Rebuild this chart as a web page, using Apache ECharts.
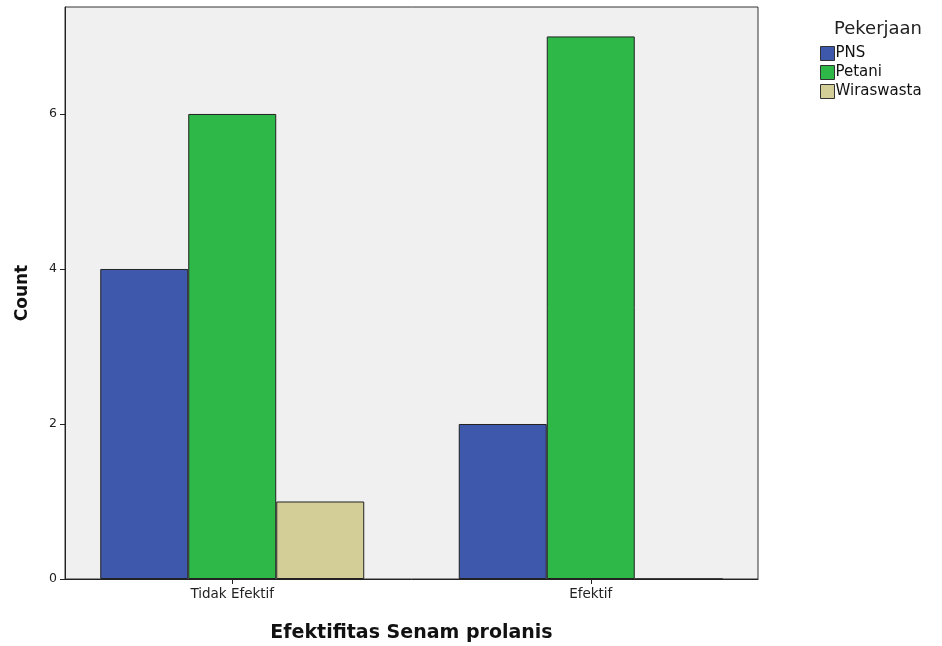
<!DOCTYPE html>
<html><head><meta charset="utf-8">
<script src="https://cdn.jsdelivr.net/npm/echarts@6/dist/echarts.min.js"></script>
<style>html,body{margin:0;padding:0;background:#fff}#c{width:942px;height:646px}</style>
</head><body><div id="c"></div>
<script>
const categories = ['Tidak Efektif', 'Efektif'];
const seriesNames = ['PNS', 'Petani', 'Wiraswasta'];
const pnsValues = [4, 2];
const petaniValues = [6, 7];
const wiraswastaValues = [1, 0];
const yTicks = [0, 2, 4, 6];
const colors = ['#3e58ac', '#2eb848', '#d3ce97'];
const allValues = [pnsValues, petaniValues, wiraswastaValues];

const chart = echarts.init(document.getElementById('c'), null, {renderer: 'canvas'});
const font = '"DejaVu Sans", sans-serif';
chart.setOption({
  animation: false,
  backgroundColor: '#fff',
  title: {
    text: 'Pekerjaan', left: 829, top: 15,
    textStyle: {fontFamily: font, fontSize: 18, fontWeight: 'normal', color: '#222'}
  },
  legend: {
    left: 815, top: 41, orient: 'vertical', itemWidth: 14, itemHeight: 14, itemGap: 4,
    icon: 'rect',
    data: seriesNames,
    textStyle: {fontFamily: font, fontSize: 15, color: '#111', padding: [0, 0, 0, -4]},
    itemStyle: {borderColor: '#333', borderWidth: 1}
  },
  grid: {left: 65, top: 7, right: 184, bottom: 67, outerBoundsMode: 'none', show: true, backgroundColor: '#f0f0f0', borderColor: '#333', borderWidth: 1},
  xAxis: {
    type: 'value', min: -0.4665, max: 1.4665,
    name: 'Efektifitas Senam prolanis', nameLocation: 'middle', nameGap: 45,
    nameTextStyle: {fontFamily: font, fontSize: 19, fontWeight: 'bold', color: '#111'},
    splitLine: {show: false},
    axisLine: {show: true, onZero: false, lineStyle: {color: '#222', width: 1}},
    axisTick: {show: true, length: 5, customValues: [0, 1], lineStyle: {color: '#222'}},
    axisLabel: {customValues: [0, 1], formatter: v => categories[Math.round(v)], fontFamily: font, fontSize: 13.5, color: '#222', margin: 8}
  },
  yAxis: {
    type: 'value', min: 0, max: 7.38,
    name: 'Count', nameLocation: 'middle', nameGap: 34, nameRotate: 90,
    nameTextStyle: {fontFamily: font, fontSize: 17, fontWeight: 'bold', color: '#111'},
    splitLine: {show: false},
    axisLine: {show: true, onZero: false, lineStyle: {color: '#222', width: 1}},
    axisTick: {show: true, length: 5, customValues: yTicks, lineStyle: {color: '#222'}},
    axisLabel: {customValues: yTicks, fontFamily: font, fontSize: 12.5, color: '#222', margin: 8}
  },
  series: seriesNames.map((name, i) => ({
    name: name, type: 'bar', barWidth: 88, barGap: '0%',
    data: allValues[i].map((v, j) => [j, v]),
    itemStyle: {color: colors[i], borderColor: '#222', borderWidth: 1}
  }))
});
</script></body></html>
